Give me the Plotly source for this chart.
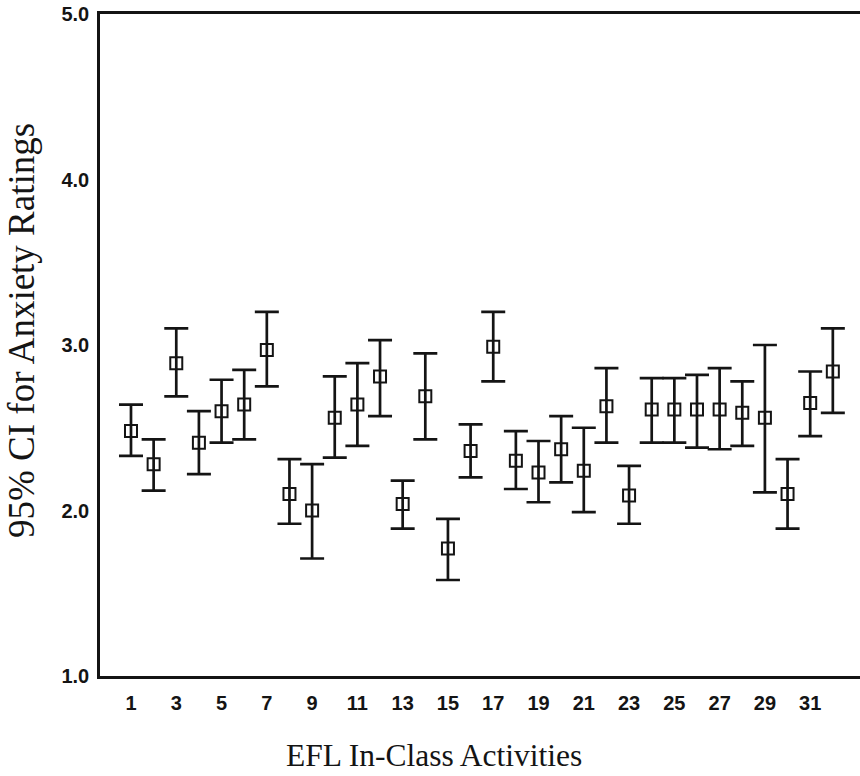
import plotly.graph_objects as go

activities = list(range(1, 33))
means = [2.48, 2.28, 2.89, 2.41, 2.60, 2.64, 2.97, 2.10,
         2.00, 2.56, 2.64, 2.81, 2.04, 2.69, 1.77, 2.36,
         2.99, 2.30, 2.23, 2.37, 2.24, 2.63, 2.09, 2.61,
         2.61, 2.61, 2.61, 2.59, 2.56, 2.10, 2.65, 2.84]
upper = [2.64, 2.43, 3.10, 2.60, 2.79, 2.85, 3.20, 2.31,
         2.28, 2.81, 2.89, 3.03, 2.18, 2.95, 1.95, 2.52,
         3.20, 2.48, 2.42, 2.57, 2.50, 2.86, 2.27, 2.80,
         2.80, 2.82, 2.86, 2.78, 3.00, 2.31, 2.84, 3.10]
lower = [2.33, 2.12, 2.69, 2.22, 2.41, 2.43, 2.75, 1.92,
         1.71, 2.32, 2.39, 2.57, 1.89, 2.43, 1.58, 2.20,
         2.78, 2.13, 2.05, 2.17, 1.99, 2.41, 1.92, 2.41,
         2.41, 2.38, 2.37, 2.39, 2.11, 1.89, 2.45, 2.59]
x_ticks = list(range(1, 32, 2))
y_ticks = [1.0, 2.0, 3.0, 4.0, 5.0]

err_plus = [u - m for u, m in zip(upper, means)]
err_minus = [m - l for m, l in zip(means, lower)]

ink = "#141414"
tick_font = dict(family="Liberation Sans, Arial, sans-serif", size=20, color=ink, weight="bold")
title_family = "Liberation Serif, Times New Roman, serif"

fig = go.Figure(go.Scatter(
    x=activities, y=means, mode="markers",
    marker=dict(symbol="square-open", size=12, color=ink, line=dict(width=2, color=ink)),
    error_y=dict(type="data", symmetric=False, array=err_plus, arrayminus=err_minus,
                 width=12, thickness=2.7, color=ink),
    showlegend=False, hoverinfo="skip",
))

fig.update_layout(
    width=860, height=776,
    margin=dict(l=100, r=0, t=14, b=100),
    paper_bgcolor="white", plot_bgcolor="white",
    xaxis=dict(range=[-0.369, 33.2], tickmode="array", tickvals=x_ticks,
               ticktext=[str(v) for v in x_ticks],
               showgrid=False, zeroline=False, showline=True, mirror=True,
               linecolor=ink, linewidth=2.5, ticks="",
               ticklabelstandoff=7, tickfont=tick_font),
    yaxis=dict(range=[1.0, 5.0], tickmode="array", tickvals=y_ticks,
               ticktext=[f"{v:.1f}" for v in y_ticks],
               showgrid=False, zeroline=False, showline=True, mirror=False,
               linecolor=ink, linewidth=2.5, ticks="",
               ticklabelstandoff=4, tickfont=tick_font),
    annotations=[
        dict(text="EFL In-Class Activities", xref="paper", yref="paper",
             x=(434 - 100) / 760, y=-(775 - 676) / 662, xanchor="center", yanchor="bottom",
             showarrow=False,
             font=dict(family=title_family, size=31.5, color=ink)),
        dict(text="95% CI for Anxiety Ratings", xref="paper", yref="paper",
             x=-(100 - 22) / 760, y=(676 - 331) / 662, xanchor="center", yanchor="middle",
             textangle=-90, showarrow=False,
             font=dict(family=title_family, size=37, color=ink)),
    ],
)

fig.write_html("out.html", config={"displayModeBar": False},
               post_script="document.body.style.margin='0';")
